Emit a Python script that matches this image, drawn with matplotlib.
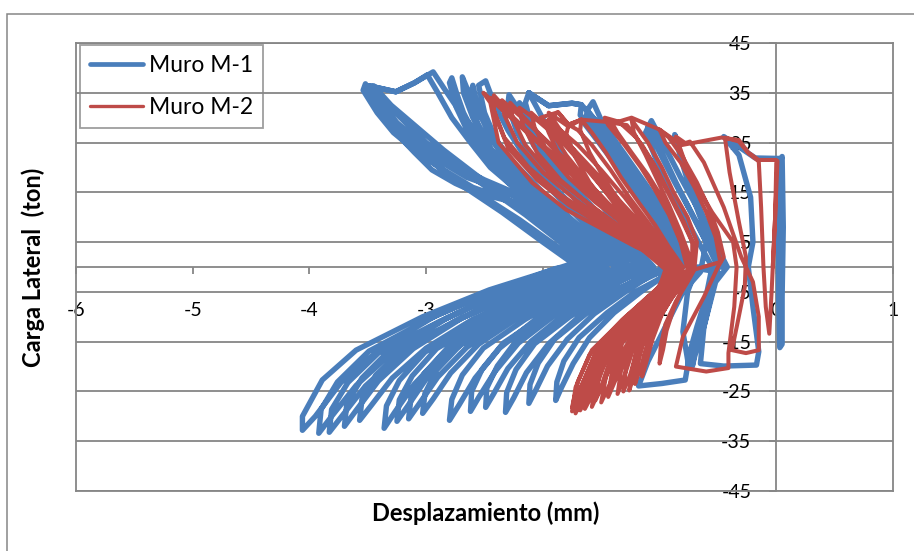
import matplotlib.pyplot as plt
from matplotlib.patches import Rectangle

# Muro M-1: desplazamiento (mm), una fila por tramo del registro
m1_desp = [
    0.02, 0.04, 0.05, 0.06, 0.05, 0.05, 0.03, 0.02, 0.02, 0.03,
    -0.18, -0.45, -0.32, -0.22, -0.20, -0.24, -0.20, -0.15, -0.17, -0.45, -0.65, -0.62, -0.52, -0.42,
    -0.55, -0.68, -0.82, -0.95, -1.07, -1.10, -1.00, -0.87, -0.73, -0.60, -0.50, -0.60, -0.68, -0.74, -0.78, -0.98, -1.18, -1.10, -0.95, -0.80, -0.65,
    -0.60, -0.73, -0.86, -0.98, -1.09, -1.12, -1.02, -0.90, -0.76, -0.62, -0.55, -0.62, -0.68, -0.75, -0.80, -0.76, -0.68,
    -0.45, -0.55, -0.66, -0.77, -0.87, -0.82, -0.73, -0.62, -0.50, -0.55, -0.62, -0.70, -0.72, -0.66, -0.58, -0.50,
    -0.75, -0.85, -0.95, -1.13, -1.37, -1.50, -1.57, -1.62, -1.47, -1.29, -1.10, -0.96, -0.84, -0.85,
    -1.21, -1.45, -1.69, -1.82, -1.88, -1.89, -1.84, -1.74, -1.60, -1.39, -1.16, -0.95,
    -0.80, -0.88, -1.00, -1.17, -1.40, -1.55, -1.67, -1.75, -1.95, -2.12, -1.95, -1.75, -1.67,
    -1.68, -1.52, -1.33, -1.14, -1.00, -0.88, -0.95,
    -1.36, -1.63, -1.90, -2.04, -2.11, -2.12, -2.06, -1.96, -1.79, -1.56, -1.30, -1.07,
    -0.85, -0.93, -1.05, -1.22, -1.43, -1.56, -1.62, -1.65, -1.52, -1.36, -1.19, -1.04, -0.92, -1.00,
    -1.46, -1.77, -2.07, -2.23, -2.31, -2.32, -2.25, -2.14, -1.95, -1.69, -1.40, -1.13,
    -1.05, -1.20, -1.40, -1.60, -1.80, -1.97, -2.12, -2.15, -2.08, -1.95, -1.78, -1.55, -1.30, -1.10,
    -1.59, -1.91, -2.23, -2.39, -2.48, -2.49, -2.42, -2.30, -2.10, -1.82, -1.52, -1.24,
    -1.10, -1.28, -1.50, -1.72, -1.95, -2.12, -2.29, -2.30, -2.22, -2.08, -1.90, -1.65, -1.40, -1.15,
    -1.66, -2.00, -2.34, -2.52, -2.61, -2.62, -2.55, -2.41, -2.21, -1.91, -1.59, -1.30,
    -1.15, -1.33, -1.55, -1.75, -1.95, -2.10, -2.20, -2.18, -2.08, -1.92, -1.70, -1.45, -1.20, -1.25,
    -1.79, -2.15, -2.51, -2.69, -2.78, -2.80, -2.72, -2.58, -2.37, -2.06, -1.72, -1.41,
    -1.25, -1.45, -1.70, -1.95, -2.15, -2.30, -2.42, -2.49, -2.55, -2.50, -2.40, -2.25, -2.05, -1.80, -1.55, -1.30,
    -1.91, -2.30, -2.70, -2.91, -3.01, -3.03, -2.94, -2.79, -2.55, -2.20, -1.82, -1.47,
    -1.30, -1.50, -1.75, -2.00, -2.25, -2.45, -2.60, -2.69, -2.68, -2.60, -2.48, -2.32, -2.10, -1.85, -1.60, -1.35,
    -1.98, -2.39, -2.81, -3.02, -3.13, -3.15, -3.06, -2.90, -2.65, -2.29, -1.89, -1.53,
    -1.35, -1.55, -1.80, -2.05, -2.28, -2.45, -2.55, -2.60, -2.62, -2.56, -2.44, -2.27, -2.05, -1.80, -1.55, -1.45,
    -2.08, -2.49, -2.91, -3.12, -3.23, -3.25, -3.16, -3.00, -2.75, -2.39, -1.99, -1.63,
    -1.45, -1.65, -1.90, -2.15, -2.35, -2.55, -2.72, -2.85, -2.94, -3.10, -3.26, -3.49, -3.26, -3.10, -2.99,
    -2.90, -2.78, -2.62, -2.45, -2.25, -2.00, -1.75, -1.55, -1.50,
    -2.15, -2.58, -3.01, -3.23, -3.34, -3.36, -3.27, -3.10, -2.84, -2.47, -2.06, -1.69,
    -1.50, -1.70, -1.95, -2.20, -2.40, -2.57, -2.68, -2.74, -2.78, -2.80, -2.74, -2.64, -2.50, -2.30, -2.05, -1.80, -1.60, -1.55,
    -2.26, -2.72, -3.19, -3.43, -3.55, -3.57, -3.47, -3.29, -3.00, -2.60, -2.16, -1.75,
    -1.55, -1.75, -2.05, -2.35, -2.60, -2.85, -3.10, -3.30, -3.45,
    -3.50, -3.38, -3.23, -3.10, -2.95, -2.75, -2.57, -2.23, -1.89, -1.61, -1.60,
    -2.38, -2.89, -3.41, -3.67, -3.81, -3.83, -3.72, -3.52, -3.21, -2.76, -2.27, -1.82,
    -1.60, -1.85, -2.15, -2.45, -2.75, -3.00, -3.22, -3.40, -3.45, -3.47, -3.30, -3.12, -2.90, -2.65, -2.35, -2.05, -1.80, -1.65,
    -2.44, -2.97, -3.49, -3.76, -3.90, -3.92, -3.81, -3.60, -3.28, -2.83, -2.33, -1.88,
    -1.65, -1.90, -2.20, -2.50, -2.80, -3.05, -3.30, -3.45, -3.52, -3.54, -3.42, -3.28, -3.10, -2.85, -2.60, -2.30, -1.95, -1.65,
    -2.46, -3.03, -3.60, -3.89, -4.06, -4.06, -3.95, -3.73, -3.39, -2.92, -2.37, -1.89,
    -1.70, -2.00, -2.35, -2.70, -3.00, -3.25, -3.40, -3.47, -3.40, -3.25, -3.05, -2.80, -2.50, -2.15, -1.85, -1.70, -1.60,
    -2.34, -2.82, -3.30, -3.55, -3.68, -3.70, -3.60, -3.41, -3.11, -2.69, -2.23, -1.81,
]
# Muro M-1: carga lateral (ton)
m1_carga = [
    0, 21.5, 22.2, 8, -6, -15.5, -16.2, -6, 0, 21.8,
    21.9, 26.2, 22.5, 14, 5, 0, -8, -17, -19.7, -19.9, -19.4, -12, -3, 0,
    6, 12, 18, 24, 29.4, 28, 23, 17, 11, 5, 0, -6, -12, -17, -22.7, -23.4, -23.9, -19, -12, -5, -1,
    5, 11, 17, 23, 28.5, 27, 21, 15, 9, 3, 0, -8, -16, -20, -13, -5, 0,
    0, 6, 12, 19, 26.6, 22, 15, 8, 2, -5, -12, -18, -20, -12, -5, -1,
    0, 5, 11, 17, 25, 29.5, 33.2, 31.5, 27, 21, 14.5, 8, 2.5, -0.5,
    -5.0, -9.2, -14.2, -18.9, -23.1, -26.8, -24.2, -19.4, -14.2, -9.2, -5.0, -1.6,
    0, 5, 11, 17, 25, 29.5, 32.6, 32.9, 32.4, 35, 32.4, 32.9, 32.6,
    30.5, 26, 20.5, 14.5, 8.5, 3, -0.5,
    -5.1, -9.4, -14.5, -19.3, -23.6, -27.4, -24.7, -19.9, -14.5, -9.4, -5.1, -1.6,
    0, 5, 11, 17, 24.5, 28.5, 31, 29, 25, 20, 14.5, 8.5, 3, -0.5,
    -5.4, -10.0, -15.4, -20.6, -25.2, -29.2, -26.3, -21.2, -15.4, -10.0, -5.4, -1.6,
    0, 4, 9.5, 15.5, 22, 28.5, 35, 33, 27, 21, 15.5, 9.5, 4, -0.5,
    -5.2, -9.6, -14.9, -19.9, -24.3, -28.2, -25.4, -20.4, -14.9, -9.6, -5.2, -1.6,
    0, 4.5, 10, 16, 22.5, 28.5, 34.6, 32.5, 27, 21.5, 16, 10, 4.5, -0.5,
    -5.3, -9.9, -15.3, -20.5, -25.0, -29.0, -26.2, -21.0, -15.3, -9.9, -5.3, -1.6,
    0, 4.5, 10, 16, 22, 28, 33, 30, 24.5, 19, 13, 7, 1.5, -0.5,
    -5.7, -10.5, -16.3, -21.7, -26.6, -30.8, -27.8, -22.3, -16.3, -10.5, -5.7, -1.7,
    0, 4.5, 10, 16, 22, 27.5, 33, 37.4, 36.5, 31, 25.5, 20, 15, 9.5, 4.5, -0.5,
    -5.4, -10.0, -15.5, -20.7, -25.4, -29.4, -26.5, -21.3, -15.5, -10.0, -5.4, -1.7,
    0, 4.5, 9.5, 15, 21, 27, 33, 38.2, 35, 30, 24.5, 19, 14, 9, 4, -0.5,
    -5.6, -10.4, -16.1, -21.5, -26.3, -30.5, -27.5, -22.1, -16.1, -10.4, -5.6, -1.7,
    0, 4, 9, 14.5, 20, 26, 31.5, 36.5, 34, 29, 23.5, 18.5, 13.5, 8.5, 3.5, -0.5,
    -5.7, -10.6, -16.4, -21.9, -26.7, -31, -28.0, -22.5, -16.4, -10.6, -5.7, -1.7,
    0, 5, 10.5, 16, 21, 26.5, 31.5, 36, 39.2, 37, 35.2, 36.4, 35.2, 37, 38.6,
    35, 30, 25, 20, 16, 11.5, 6, 1.5, -0.5,
    -6.1, -11.0, -17.1, -22.8, -27.9, -32.4, -29.2, -23.5, -17.1, -11.0, -6.1, -1.8,
    0, 4.5, 9.5, 15, 20.5, 26, 31, 35, 38, 37, 32, 27, 22, 17, 12.5, 7, 2, -0.5,
    -5.7, -10.5, -16.3, -21.7, -26.6, -30.8, -27.8, -22.3, -16.3, -10.5, -5.7, -1.7,
    0, 4, 9, 14.5, 19, 23.5, 28.5, 32.5, 36.4,
    35.6, 30.5, 26.2, 23, 19.5, 16.8, 14.9, 12.9, 7.4, 2.8, 0,
    -5.6, -11.0, -17.3, -23.2, -28.6, -33.2, -29.9, -23.9, -17.3, -11.0, -5.6, -1.3,
    0, 5, 10.5, 15.5, 20.5, 25, 30, 34.5, 35.8, 34.5, 29.5, 25.5, 21.5, 18, 15.5, 11.5, 6.5, 1,
    -4.8, -10.4, -16.9, -23.1, -28.6, -33.4, -30.0, -23.8, -16.9, -10.4, -4.8, -0.4,
    0, 4.5, 9.5, 14, 18.5, 23, 28.5, 33, 36.8, 35.5, 31, 27, 23.5, 19.5, 16, 13.5, 9, 1.4,
    -4.6, -10, -16.7, -22.7, -30, -32.8, -30.0, -23.2, -16.4, -9.8, -4.4, -0.3,
    0, 5, 11, 16.5, 22, 27.5, 32, 36, 33.5, 29, 25, 21, 17.5, 14, 9, 4, 0.5,
    -5.0, -10.2, -16.4, -22.3, -27.5, -32.0, -28.8, -22.9, -16.4, -10.2, -5.0, -0.8,
]

# Muro M-2: desplazamiento (mm)
m2_desp = [
    -0.03, -0.01, 0.00, 0.01, -0.01, -0.04, -0.06, -0.09, -0.11, -0.13, -0.15,
    -0.24, -0.32, -0.44, -0.40, -0.32, -0.26, -0.27, -0.33, -0.38, -0.26, -0.15, -0.15, -0.20, -0.30,
    -0.45, -0.62, -0.74, -0.78, -0.86, -0.75, -0.55, -0.37, -0.34, -0.36, -0.41, -0.41, -0.60, -0.86, -0.80, -0.62, -0.50,
    -0.45, -0.50, -0.58, -0.68, -0.80, -0.92, -1.00, -0.95, -0.82, -0.70, -0.60, -0.52, -0.48, -0.70,
    -0.76, -0.86, -0.95, -0.99, -1.00, -0.97, -0.94, -0.88, -0.81, -0.74,
    -0.70, -0.68, -0.76, -0.88, -0.98, -1.10, -1.24, -1.22, -1.12, -1.02, -0.92, -0.82, -0.74, -0.72,
    -0.81, -0.94, -1.07, -1.13, -1.15, -1.11, -1.06, -0.98, -0.87, -0.77,
    -0.72, -0.70, -0.79, -0.90, -1.02, -1.15, -1.28, -1.41, -1.36, -1.24, -1.10, -0.98, -0.88, -0.80, -0.74,
    -0.85, -1.01, -1.17, -1.23, -1.26, -1.21, -1.16, -1.05, -0.92, -0.80,
    -0.72, -0.72, -0.82, -0.94, -1.06, -1.20, -1.35, -1.47, -1.44, -1.30, -1.16, -1.04, -0.92, -0.82, -0.76,
    -0.86, -1.06, -1.25, -1.33, -1.36, -1.30, -1.23, -1.11, -0.95, -0.81,
    -0.80, -0.92, -1.04, -1.18, -1.33, -1.46, -1.58, -1.67, -1.68, -1.60, -1.48, -1.34, -1.18, -1.00, -0.82,
    -0.89, -1.11, -1.32, -1.41, -1.44, -1.37, -1.30, -1.16, -0.99, -0.83,
    -0.82, -0.95, -1.10, -1.26, -1.42, -1.58, -1.70, -1.78, -1.80, -1.72, -1.60, -1.44, -1.26, -1.05, -0.85,
    -0.87, -1.12, -1.36, -1.46, -1.50, -1.42, -1.34, -1.18, -0.98, -0.80,
    -0.84, -0.97, -1.13, -1.33, -1.53, -1.73, -1.90, -2.02, -1.87, -1.78, -1.67, -1.78, -1.87, -1.98,
    -1.95, -1.85, -1.68, -1.48, -1.25, -1.00, -0.86,
    -0.93, -1.19, -1.43, -1.54, -1.58, -1.50, -1.42, -1.25, -1.05, -0.86,
    -0.84, -0.97, -1.18, -1.40, -1.62, -1.85, -2.05, -2.20, -2.17, -2.05, -1.85, -1.60, -1.35, -1.10, -0.88,
    -0.95, -1.24, -1.51, -1.63, -1.68, -1.59, -1.50, -1.31, -1.08, -0.87,
    -0.85, -1.00, -1.22, -1.45, -1.70, -1.95, -2.18, -2.35, -2.33, -2.22, -2.00, -1.72, -1.45, -1.15, -0.90,
    -0.98, -1.27, -1.55, -1.67, -1.72, -1.63, -1.53, -1.34, -1.11, -0.89,
    -0.86, -1.00, -1.25, -1.50, -1.75, -2.00, -2.25, -2.45, -2.40, -2.30, -2.05, -1.78, -1.50, -1.20, -0.95,
    -1.00, -1.29, -1.58, -1.70, -1.75, -1.66, -1.56, -1.37, -1.13, -0.91,
    -0.88, -0.98, -1.15, -1.40, -1.65, -1.95, -2.25, -2.51, -2.45, -2.38, -2.09, -1.80, -1.52, -1.20, -0.92, -0.90,
    -1.00, -1.30, -1.56, -1.68, -1.70, -1.60, -1.48, -1.28, -1.05, -0.90,
    -0.86, -1.00, -1.20, -1.42, -1.65, -1.90, -2.12, -2.28, -2.26, -2.15, -1.95, -1.68, -1.42, -1.15, -0.92, -0.90,
    -0.97, -1.22, -1.47, -1.60, -1.64, -1.55, -1.46, -1.28, -1.06, -0.88,
    -0.84, -0.98, -1.16, -1.36, -1.57, -1.78, -1.96, -2.10, -2.07, -1.96, -1.78, -1.55, -1.30, -1.05, -0.88,
    -0.94, -1.20, -1.44, -1.56, -1.62, -1.53, -1.45, -1.27, -1.06, -0.86,
    -0.82, -0.96, -1.12, -1.30, -1.50, -1.70, -1.85, -1.95, -1.92, -1.80, -1.63, -1.43, -1.20, -1.00, -0.85,
    -0.92, -1.16, -1.40, -1.52, -1.55, -1.47, -1.39, -1.22, -1.02, -0.84,
    -0.87, -1.02, -1.26, -1.52, -1.78, -2.03, -2.25, -2.42, -2.42, -2.33, -2.12, -1.85, -1.55, -1.25, -0.96, -0.92,
    -1.02, -1.32, -1.60, -1.72, -1.75, -1.66, -1.56, -1.37, -1.13, -0.90,
    -0.80, -0.98, -1.12, -1.19, -1.21, -1.16, -1.10, -1.00, -0.88, -0.76,
    -0.83, -1.03, -1.22, -1.29, -1.31, -1.25, -1.19, -1.08, -0.93, -0.79,
    -1.30, -1.75, -1.95, -1.78, -1.67, -1.38, -1.24, -1.00, -0.81, -0.47, -0.32, -0.24, -0.15, 0.00,
]
# Muro M-2: carga lateral (ton)
m2_carga = [
    0, 10, 20.9, 21.3, 10, -5, -13.4, -8, 0, 12, 21.2,
    22.9, 25.2, 26.0, 19, 9, 2, -4, -11, -16.7, -17.3, -16.7, -10, -3, 2,
    12, 21, 25.2, 24.9, 26.2, 19, 11, 5, 0, -8, -17.3, -20.3, -21, -20, -14, -6, 0,
    2, 7, 12, 17, 22, 26, 27.6, 25, 21, 16, 11, 6, 1, -0.5,
    -3.0, -6.9, -11.5, -15.8, -19.4, -16.6, -12.8, -8.4, -4.7, -1.6,
    0, 5, 10, 15, 20, 25, 29.6, 27, 22.5, 17.5, 12.5, 7, 2, -0.5,
    -3.3, -7.8, -13.0, -17.9, -22, -18.8, -14.5, -9.5, -5.2, -1.8,
    0, 4, 9, 14, 19.5, 24.5, 28.5, 29, 27, 23, 18.5, 14, 9, 4, -0.5,
    -3.7, -8.8, -14.6, -20.2, -24.8, -21.2, -16.3, -10.7, -5.8, -2.0,
    0, 5, 10, 15.5, 21, 26, 29.2, 30, 28.5, 24.5, 20, 15.5, 10.5, 5, -0.5,
    -3.8, -9.0, -15.0, -20.8, -25.5, -21.8, -16.8, -11.0, -6.0, -2.0,
    0, 4, 8.5, 13, 18, 23, 27, 29.6, 27.5, 23, 18, 13, 8.5, 4, -0.5,
    -3.8, -9.2, -15.3, -21.2, -26.1, -22.3, -17.1, -11.3, -6.1, -2.0,
    0, 4, 9, 14, 19.5, 24.5, 27.5, 28.6, 26.5, 22, 17, 12, 7.5, 3.5, -0.5,
    -4.0, -9.6, -16.0, -22.1, -27.2, -23.2, -17.9, -11.7, -6.4, -2.1,
    0, 3.5, 8, 13, 18.5, 23.5, 27.5, 30, 31.1, 28.6, 29.6, 28.6, 31.1, 29,
    27, 22, 17, 12, 7.5, 3.5, -0.5,
    -4.1, -9.9, -16.5, -22.9, -28.1, -24.0, -18.4, -12.1, -6.6, -2.2,
    0, 3.5, 8, 13.5, 19.5, 25.5, 29.5, 32, 28.5, 23, 17.5, 12.5, 8, 4, -0.5,
    -4.2, -10.1, -16.9, -23.4, -28.8, -24.6, -18.9, -12.4, -6.7, -2.2,
    0, 3.5, 8, 13, 19, 25, 30, 33.5, 30.5, 25, 19, 13.5, 9, 4.5, -0.5,
    -4.3, -10.3, -17.3, -23.9, -29.4, -25.1, -19.3, -12.6, -6.9, -2.2,
    0, 3, 7.5, 12.5, 18.5, 24, 29.5, 34, 30, 24, 17.5, 12.5, 8.5, 4.5, -0.5,
    -4, -10, -16.7, -23, -28.2, -24.0, -18.5, -12.1, -6.6, -2.1,
    0, 2.5, 6, 11, 17, 23.5, 29.5, 35, 33, 25, 16.9, 11.5, 8, 4, 1, -1,
    -4.5, -11, -18, -24.5, -28.5, -24, -17.5, -11, -5.5, -1.5,
    0, 3, 7, 12, 17.5, 23.5, 29, 33, 30, 24.5, 19, 14, 9.5, 5, 1, -0.5,
    -4.2, -10, -16.5, -23, -28.5, -24.5, -18.5, -12, -6.5, -2,
    0, 3.5, 8, 13, 18.5, 24, 28, 31, 28, 23, 18, 13, 8.5, 4, -0.5,
    -4, -9.5, -15.5, -21.5, -27, -23, -17.5, -11.5, -6, -2,
    0, 4, 8.5, 14, 19.5, 24.5, 27.5, 29.5, 27, 22.5, 17.5, 12.5, 7.5, 3.5, -0.5,
    -3.9, -9.4, -15.7, -22, -26.8, -22.8, -17.5, -11.5, -6.2, -2,
    0, 3.5, 8, 13.5, 19.5, 25, 30, 34.5, 31.5, 26, 20, 14.5, 10, 5.5, 1.5, -0.5,
    -4.4, -10.6, -17.6, -24.2, -29, -25, -18.8, -12.4, -6.8, -2.2,
    -3.5, -8.5, -14, -19.5, -23.5, -20, -15.5, -10.2, -5.5, -1.8,
    -3.7, -8.9, -14.8, -20.5, -25, -21.5, -16.5, -10.8, -5.9, -2,
    10, 24, 31, 28.2, 29.6, 29, 30, 27.6, 24.5, 26, 25.5, 23, 21.5, 21.5,
]

x_ticks = [-6, -5, -4, -3, -2, -1, 0, 1]
y_ticks = [-45, -35, -25, -15, -5, 5, 15, 25, 35, 45]

gris = '#868686'
azul = '#4A7EBB'
rojo = '#BE4B48'

plt.rcParams['font.family'] = ['Lato', 'DejaVu Sans']

fig = plt.figure(figsize=(9.14, 5.51), dpi=100)
ax = fig.add_axes([76 / 914, 60 / 551, 817 / 914, 448 / 551])

ax.plot(m1_desp, m1_carga, color=azul, lw=3.9, solid_joinstyle='round',
        solid_capstyle='round', label='Muro M-1', zorder=3)
ax.plot(m2_desp, m2_carga, color=rojo, lw=2.9, solid_joinstyle='round',
        solid_capstyle='round', label='Muro M-2', zorder=4)

ax.set_xlim(-6, 1)
ax.set_ylim(-45, 45)
ax.set_xticks(x_ticks)
ax.set_xticklabels([str(v) for v in x_ticks])
ax.set_yticks(y_ticks)
ax.set_yticklabels([str(v) for v in y_ticks])

ax.yaxis.grid(True, color=gris, lw=1.3)
ax.set_axisbelow(True)

# ejes cruzando en el origen
ax.spines['left'].set_position(('data', 0))
ax.spines['bottom'].set_position(('data', 0))
for s in ax.spines.values():
    s.set_color(gris)
    s.set_linewidth(1.3)
    s.set_zorder(1)
ax.axvline(-6, color=gris, lw=1.3, clip_on=False, zorder=1)
ax.axhline(-45, color=gris, lw=1.3, clip_on=False, zorder=1)

ax.tick_params(axis='x', direction='out', length=5, width=1.3, color=gris,
               pad=20, labelsize=14)
ax.tick_params(axis='y', direction='out', length=5, width=1.3, color=gris,
               pad=13, labelsize=14)

leg = ax.legend(loc='upper left', bbox_to_anchor=(0.005, 0.996), borderaxespad=0,
                fontsize=16.5, frameon=True, fancybox=False, handlelength=2.3,
                handletextpad=0.25, labelspacing=0.9, borderpad=0.45)
leg.get_frame().set_edgecolor(gris)
leg.get_frame().set_facecolor('none')
leg.get_frame().set_linewidth(1.3)
leg.get_lines()[0].set_linewidth(3.4)
leg.get_lines()[1].set_linewidth(2.4)

fig.text(486 / 914, 1 - 513 / 551, 'Desplazamiento (mm)', ha='center', va='center',
         fontsize=17, fontweight='bold')
fig.text(33 / 914, 1 - 267 / 551, 'Carga Lateral  (ton)', ha='center', va='center',
         rotation=90, fontsize=17, fontweight='bold')

# borde del área del gráfico
fig.add_artist(Rectangle((7 / 914, -0.1), 1.2, 1 - 14 / 551 + 0.1, transform=fig.transFigure,
                         fill=False, edgecolor=gris, lw=1.1))

fig.savefig('out.png', dpi=100)
